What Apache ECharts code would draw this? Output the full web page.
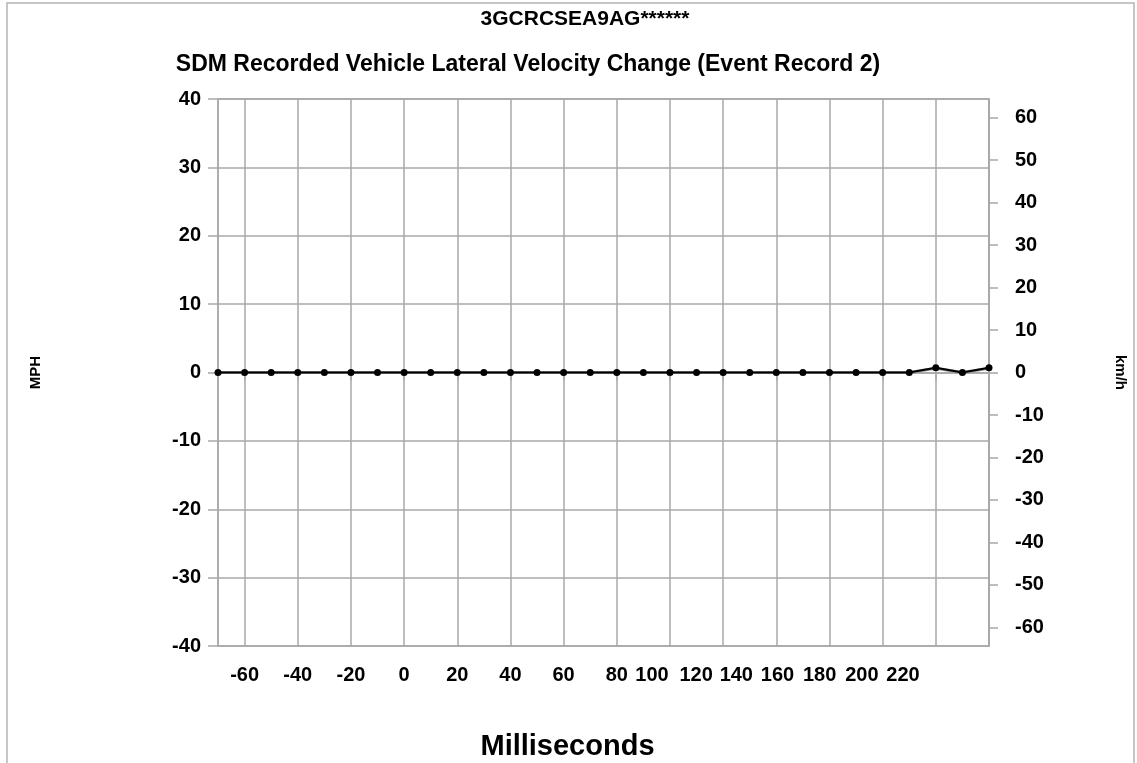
<!DOCTYPE html>
<html>
<head>
<meta charset="utf-8">
<title>SDM Recorded Vehicle Lateral Velocity Change</title>
<script src="https://cdn.jsdelivr.net/npm/echarts@6/dist/echarts.min.js"></script>
<style>
  html, body { margin: 0; padding: 0; background: #fff; }
  #chart { width: 1137px; height: 763px; }
</style>
</head>
<body>
<div id="chart"></div>
<script>
// Time axis (ms), one sample every 10 ms
const timeMs = [-70, -60, -50, -40, -30, -20, -10, 0, 10, 20, 30, 40, 50, 60, 70,
  80, 90, 100, 110, 120, 130, 140, 150, 160, 170, 180, 190, 200, 210, 220];

// Lateral delta-V in MPH (black trace)
const lateralMph = [0, 0, 0, 0, 0, 0, 0, 0, 0, 0, 0, 0, 0, 0, 0,
  0, 0, 0, 0, 0, 0, 0, 0, 0, 0, 0, 0, 0.7, 0, 0.7];

// Lateral delta-V in km/h (grey trace, right axis)
const lateralKmh = [0, 0, 0, 0, 0, 0, 0, 0, 0, 0, 0, 0, 0, 0, 0,
  0, 0, 0, 0, 0, 0, 0, 0, 0, 0, 0, 0, 1, 0, 1];

// Axis ranges and tick labels
const mphRange = [-40, 40];
const kmhTicks = [-60, -50, -40, -30, -20, -10, 0, 10, 20, 30, 40, 50, 60];
const KMH_PER_MPH = 1.609344;

// horizontal nudge (px, leftwards) for the crowded tail of the time labels
const labelNudge = { '100': 18, '120': 27, '140': 40, '160': 52, '180': 63, '200': 74, '220': 86 };

const GRID = '#a8a8a8';
const FONT = 'Liberation Sans, Arial, sans-serif';
const labelFont = { color: '#000', fontWeight: 'bold', fontSize: 20, fontFamily: FONT };

const rich = {};
Object.keys(labelNudge).forEach(k => {
  rich['n' + k] = Object.assign({}, labelFont, { padding: [0, labelNudge[k] * 2, 0, 0] });
});

const isMajor = (idx, val) => Number(val) % 20 === 0;

const chart = echarts.init(document.getElementById('chart'), null, { renderer: 'canvas' });
chart.setOption({
  animation: false,
  backgroundColor: '#fff',
  graphic: [{
    type: 'rect',
    shape: { x: 7, y: 3, width: 1127, height: 780 },
    style: { fill: 'none', stroke: '#b4b4b4', lineWidth: 1.5 },
    silent: true
  }, {
    type: 'text',
    x: 585, y: 19,
    style: {
      text: '3GCRCSEA9AG******', fill: '#000', align: 'center', verticalAlign: 'middle',
      font: 'bold 21px ' + FONT
    },
    silent: true
  }, {
    type: 'text',
    x: 528, y: 65,
    style: {
      text: 'SDM Recorded Vehicle Lateral Velocity Change (Event Record 2)', fill: '#000',
      align: 'center', verticalAlign: 'middle', font: 'bold 23px ' + FONT
    },
    silent: true
  }],
  grid: {
    left: 218, right: 148, top: 99, bottom: 117,
    show: true, borderColor: GRID, borderWidth: 1.5,
    containLabel: false, outerBoundsMode: 'none'
  },
  xAxis: {
    type: 'category',
    data: timeMs,
    boundaryGap: false,
    name: 'Milliseconds',
    nameLocation: 'middle',
    nameGap: 86,
    nameTextStyle: { color: '#000', fontWeight: 'bold', fontSize: 29, fontFamily: FONT, padding: [0, 72, 0, 0] },
    axisLine: { show: true, lineStyle: { color: GRID, width: 1.5 } },
    axisTick: { show: true, interval: isMajor, length: 8, lineStyle: { color: GRID, width: 1.5 } },
    splitLine: { show: true, interval: isMajor, lineStyle: { color: GRID, width: 1.5 } },
    axisLabel: {
      interval: isMajor,
      margin: 19,
      ...labelFont,
      formatter: v => (labelNudge[v] !== undefined ? '{n' + v + '|' + v + '}' : String(v)),
      rich: rich
    }
  },
  yAxis: [{
    type: 'value',
    min: mphRange[0], max: mphRange[1], interval: 10,
    position: 'left',
    name: 'MPH',
    nameLocation: 'middle',
    nameRotate: 90,
    nameGap: 175,
    nameTextStyle: { color: '#000', fontWeight: 'bold', fontSize: 15, fontFamily: FONT },
    axisLine: { show: true, lineStyle: { color: GRID, width: 1.5 } },
    axisTick: { show: true, length: 10, lineStyle: { color: GRID, width: 1.5 } },
    splitLine: { show: true, lineStyle: { color: GRID, width: 1.5 } },
    axisLabel: { margin: 17, ...labelFont }
  }, {
    type: 'value',
    min: mphRange[0] * KMH_PER_MPH, max: mphRange[1] * KMH_PER_MPH,
    position: 'right',
    name: 'km/h',
    nameLocation: 'middle',
    nameRotate: -90,
    nameGap: 124,
    nameTextStyle: { color: '#000', fontWeight: 'bold', fontSize: 15, fontFamily: FONT },
    axisLine: { show: true, lineStyle: { color: GRID, width: 1.5 } },
    axisTick: { show: true, length: 9, customValues: kmhTicks, lineStyle: { color: GRID, width: 1.5 } },
    splitLine: { show: false },
    axisLabel: { margin: 26, customValues: kmhTicks, ...labelFont }
  }],
  series: [{
    name: 'km/h',
    type: 'line',
    yAxisIndex: 1,
    data: lateralKmh,
    showSymbol: false,
    lineStyle: { color: '#9a9a9a', width: 3 },
    z: 2
  }, {
    name: 'MPH',
    type: 'line',
    yAxisIndex: 0,
    data: lateralMph,
    symbol: 'circle',
    symbolSize: 7,
    itemStyle: { color: '#000' },
    lineStyle: { color: '#000', width: 2 },
    z: 3
  }]
});
</script>
</body>
</html>
